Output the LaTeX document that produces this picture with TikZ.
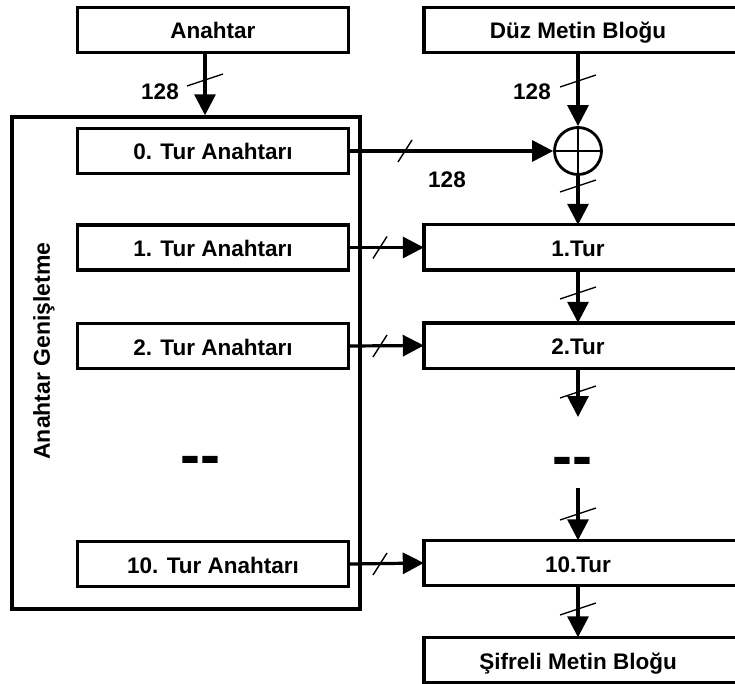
\documentclass[tikz,border=0pt]{standalone}
\usepackage{fontspec}
\setmainfont{Liberation Sans}
\usetikzlibrary{arrows.meta, positioning, calc}

\begin{document}
\begin{tikzpicture}[x=1pt, y=-1pt, >={Triangle[length=21pt,width=21pt]},
  txt/.style={font=\fontsize{22.5}{26}\selectfont\bfseries},
  dots/.style={font=\fontsize{60}{60}\selectfont\bfseries},
  box/.style={txt, draw, line width=3.4pt, minimum width=271pt,
    minimum height=45pt, inner sep=0pt, text height=18pt, text depth=0pt},
  rbox/.style={txt, minimum width=308pt, minimum height=45pt, inner sep=0pt,
    text height=18pt, text depth=0pt},
  arr/.style={->, line width=3.2pt},
  tick/.style={line width=1.4pt}]

  \clip (0,0) rectangle (735,684);

  % left column: key schedule
  \node[box] (ak) at (213,30) {Anahtar};
  \node[draw, line width=3.4pt, minimum width=348pt, minimum height=492pt,
        inner sep=0pt] (kg) at (186,363) {};
  \node[txt, rotate=90, font=\fontsize{23}{26}\selectfont\bfseries] (kgl) at (44,351) {Anahtar Genişletme};
  \node[box] (k0) at (213,151) {0. Tur Anahtarı};
  \node[box] (k1) at (213,247.5) {1. Tur Anahtarı};
  \node[box] (k2) at (213,346) {2. Tur Anahtarı};
  \node[dots] (kd) at (200,466) {-{}-};
  \node[box] (k10) at (213,564) {10. Tur Anahtarı};

  % right column: rounds
  \node[rbox] (dm) at (578,30) {Düz Metin Bloğu};
  \node[draw, circle, line width=2.8pt, minimum size=47pt, inner sep=0pt,
        path picture={
          \draw[line width=2.8pt] (path picture bounding box.north) -- (path picture bounding box.south);
          \draw[line width=2.8pt] (path picture bounding box.west) -- (path picture bounding box.east);
        }] (xr) at (578,151) {};
  \node[rbox] (t1) at (578,247.5) {1.Tur};
  \node[rbox] (t2) at (578,345.5) {2.Tur};
  \node[dots] (td) at (572,467) {-{}-};
  \node[rbox] (t10) at (578,563) {10.Tur};
  \node[rbox] (sm) at (578,660) {Şifreli Metin Bloğu};
  \foreach \n in {dm,t1,t2,t10,sm}
    \draw[line width=3.4pt] (\n.south west) rectangle ([xshift=30pt]\n.north east);

  \coordinate (d1) at (578,417);
  \coordinate (d2) at (578,488);

  % connectors
  \draw[arr] ([xshift=-8pt]ak.south) -- ([xshift=-8pt]ak.south |- kg.north);
  \draw[arr] (dm.south) -- (xr.north);
  \draw[arr] (k0.east) -- (xr.west);
  \draw[arr] (xr.south) -- (t1.north);
  \draw[arr] (k1.east) -- (t1.west);
  \draw[arr] (k2.east) -- (t2.west);
  \draw[arr] (k10.east) -- (t10.west);
  \draw[arr] (t1.south) -- (t2.north);
  \draw[arr] (t2.south) -- (d1);
  \draw[arr] (d2) -- (t10.north);
  \draw[arr] (t10.south) -- (sm.north);

  % bus width marks
  \foreach \x/\y in {205/80, 578/81, 578/186, 578/293, 578/392, 578/514, 578/609}
    \draw[tick] (\x-18,\y+6) -- (\x+18,\y-6);
  \foreach \x/\y in {405/151, 380/247.5, 380/346, 380/564}
    \draw[tick] (\x-7,\y+11) -- (\x+7,\y-11);

  \node[txt] (w1) at (160,92) {128};
  \node[txt] (w2) at (532,92) {128};
  \node[txt] (w3) at (447,180) {128};

\end{tikzpicture}
\end{document}
